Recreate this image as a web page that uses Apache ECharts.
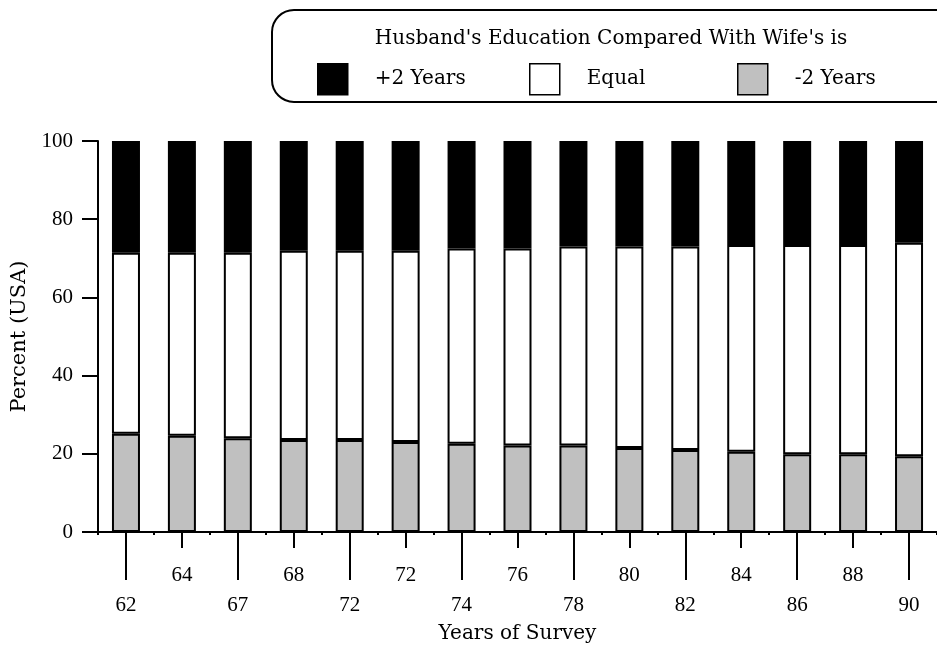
<!DOCTYPE html>
<html><head><meta charset="utf-8">
<script src="https://cdn.jsdelivr.net/npm/echarts@6/dist/echarts.min.js"></script>
<style>html,body{margin:0;padding:0;background:#fff}#c{width:937px;height:651px}</style>
</head><body><div id="c"></div>
<script>
const categories = ['62','64','67','68','72','72','74','76','78','80','82','84','86','88','90'];
const minus2 = [25.1,24.6,24.0,23.5,23.5,23.0,22.6,22.1,22.1,21.5,21.0,20.5,19.9,19.9,19.4];
const equal  = [46.3,46.8,47.4,48.4,48.4,48.9,49.9,50.4,50.9,51.5,52.0,52.9,53.5,53.5,54.6];
const plus2  = [28.6,28.6,28.6,28.1,28.1,28.1,27.5,27.5,27.0,27.0,27.0,26.6,26.6,26.6,26.0];
const seriesNames = ['+2 Years','Equal','-2 Years'];
const legendTitle = "Husband's Education Compared With Wife's is";
const xTitle = 'Years of Survey';
const yTitle = 'Percent (USA)';

const NUMFONT = 'Liberation Serif';
const TXTFONT = 'DejaVu Serif';
const gridRect = {left: 98, top: 141, width: 847, height: 391};
const legendLefts = [317, 529, 737];
const chart = echarts.init(document.getElementById('c'), null, {renderer: 'canvas'});

const hiddenY = (gi) => ({type: 'value', gridIndex: gi, min: 0, max: 100, show: false});
const oneLegend = (name, i) => ({
  data: [name],
  left: legendLefts[i], top: 63, padding: 0,
  icon: 'rect',
  itemWidth: 30, itemHeight: 31,
  selectedMode: false,
  itemStyle: {borderColor: '#000', borderWidth: 1.5},
  textStyle: {fontFamily: TXTFONT, fontSize: 20, color: '#000', padding: [0, 0, 0, 22]}
});

chart.setOption({
  backgroundColor: '#fff',
  animation: false,
  grid: [Object.assign({}, gridRect), Object.assign({}, gridRect), Object.assign({}, gridRect)],
  legend: seriesNames.map(oneLegend),
  graphic: [
    {type: 'rect', shape: {x: 272, y: 10, width: 690, height: 92, r: 22},
     style: {fill: null, stroke: '#000', lineWidth: 2}},
    {type: 'text', x: 611, y: 39,
     style: {text: legendTitle, fontFamily: TXTFONT, fontSize: 20, fill: '#000', textAlign: 'center', textVerticalAlign: 'middle'}}
  ],
  xAxis: [
    {type: 'category', gridIndex: 0, data: categories,
     axisLine: {lineStyle: {color: '#000', width: 2}},
     axisTick: {show: true, alignWithLabel: true, interval: (i) => i % 2 === 0, length: 48, lineStyle: {color: '#000', width: 2}},
     axisLabel: {interval: (i) => i % 2 === 0, margin: 63, fontFamily: NUMFONT, fontSize: 21, color: '#000'},
     name: xTitle, nameLocation: 'middle', nameGap: 92,
     nameTextStyle: {fontFamily: TXTFONT, fontSize: 20, color: '#000'}},
    {type: 'category', gridIndex: 1, data: categories,
     axisLine: {show: false},
     axisTick: {show: true, alignWithLabel: true, interval: (i) => i % 2 === 1, length: 16, lineStyle: {color: '#000', width: 2}},
     axisLabel: {interval: (i) => i % 2 === 1, margin: 33, fontFamily: NUMFONT, fontSize: 21, color: '#000'}},
    {type: 'category', gridIndex: 2, data: categories,
     axisLine: {show: false},
     axisTick: {show: true, alignWithLabel: false, length: 3, lineStyle: {color: '#000', width: 2}},
     axisLabel: {show: false}}
  ],
  yAxis: [
    {type: 'value', gridIndex: 0, min: 0, max: 100, interval: 20,
     splitLine: {show: false},
     axisLine: {show: true, lineStyle: {color: '#000', width: 2}},
     axisTick: {show: true, length: 16, lineStyle: {color: '#000', width: 2}},
     axisLabel: {margin: 25, fontFamily: NUMFONT, fontSize: 21, color: '#000'},
     name: yTitle, nameLocation: 'middle', nameGap: 68,
     nameTextStyle: {fontFamily: TXTFONT, fontSize: 21, color: '#000'}},
    hiddenY(1), hiddenY(2)
  ],
  series: [
    {name: '-2 Years', type: 'bar', stack: 's', data: minus2, barWidth: 28,
     itemStyle: {color: '#c0c0c0', borderColor: '#000', borderWidth: 2}},
    {name: 'Equal', type: 'bar', stack: 's', data: equal, barWidth: 28,
     itemStyle: {color: '#ffffff', borderColor: '#000', borderWidth: 2}},
    {name: '+2 Years', type: 'bar', stack: 's', data: plus2, barWidth: 28,
     itemStyle: {color: '#000000', borderColor: '#000', borderWidth: 2}}
  ]
});
</script></body></html>
